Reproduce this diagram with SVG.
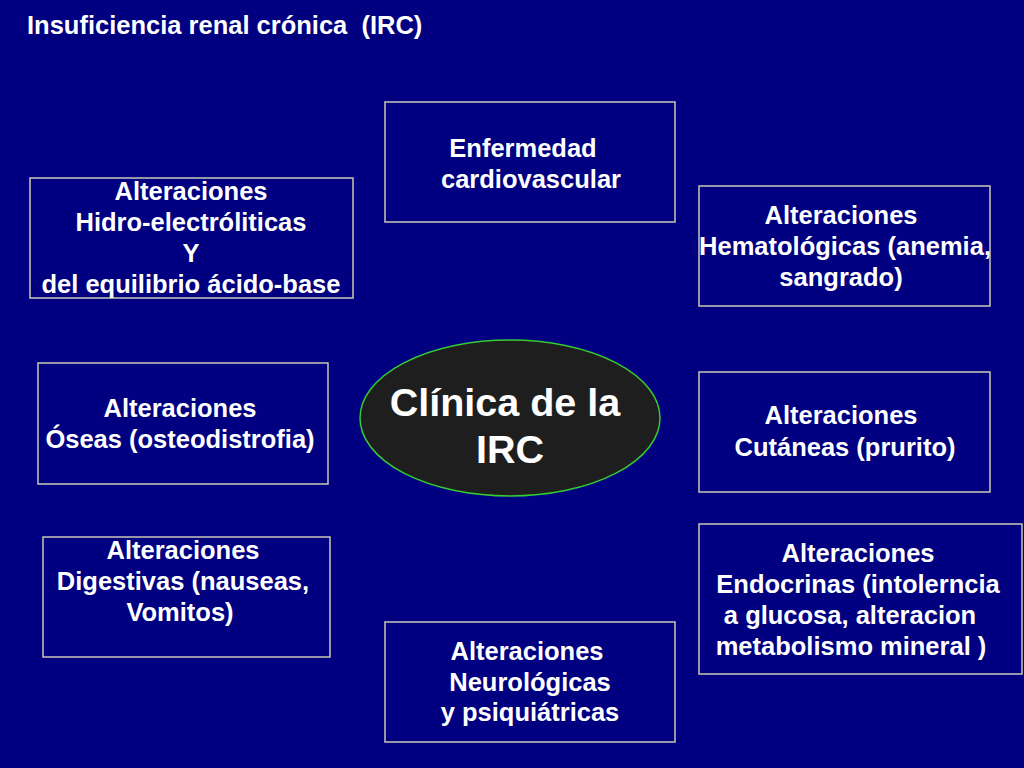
<svg xmlns="http://www.w3.org/2000/svg" width="1024" height="768" viewBox="0 0 1024 768">
<style>
.bg{fill:#000080}
.box{fill:#000080;stroke:#c8c8b4;stroke-width:1.5}
.t{font-family:"Liberation Sans",Arial,sans-serif;font-weight:bold;font-size:25.5px;fill:#ffffff;text-anchor:middle}
.title{font-family:"Liberation Sans",Arial,sans-serif;font-weight:bold;font-size:25.5px;fill:#ffffff;white-space:pre}
.big{font-family:"Liberation Sans",Arial,sans-serif;font-weight:bold;font-size:39.5px;fill:#ffffff;text-anchor:middle}
</style>
<rect class="bg" x="0" y="0" width="1024" height="768"/>
<text class="title" x="27" y="34" xml:space="preserve">Insuficiencia renal crónica  (IRC)</text>
<g id="connectors"></g>
<g id="center">
<ellipse cx="510" cy="418" rx="150" ry="78" fill="#1e1e1e" stroke="#33cc33" stroke-width="1.5"/>
<text class="big" x="505" y="416">Clínica de la</text>
<text class="big" x="510" y="463">IRC</text>
</g>
<g id="cardio">
<rect class="box" x="385" y="102" width="290" height="120"/>
<text class="t" x="523" y="157">Enfermedad</text>
<text class="t" x="531" y="188">cardiovascular</text>
</g>
<g id="hidro">
<rect class="box" x="30" y="178" width="323" height="120"/>
<text class="t" x="191" y="200">Alteraciones</text>
<text class="t" x="191" y="231">Hidro-electróliticas</text>
<text class="t" x="191" y="262">Y</text>
<text class="t" x="191" y="293">del equilibrio ácido-base</text>
</g>
<g id="hemato">
<rect class="box" x="699" y="186" width="291" height="120"/>
<text class="t" x="841" y="224">Alteraciones</text>
<text class="t" x="845" y="255">Hematológicas (anemia,</text>
<text class="t" x="841" y="286">sangrado)</text>
</g>
<g id="oseas">
<rect class="box" x="38" y="363" width="290" height="121"/>
<text class="t" x="180" y="417">Alteraciones</text>
<text class="t" x="180" y="448">Óseas (osteodistrofia)</text>
</g>
<g id="cutaneas">
<rect class="box" x="699" y="372" width="291" height="120"/>
<text class="t" x="841" y="424">Alteraciones</text>
<text class="t" x="845" y="456">Cutáneas (prurito)</text>
</g>
<g id="digestivas">
<rect class="box" x="43" y="537" width="287" height="120"/>
<text class="t" x="183" y="559">Alteraciones</text>
<text class="t" x="183" y="590">Digestivas (nauseas,</text>
<text class="t" x="180" y="621">Vomitos)</text>
</g>
<g id="endocrinas">
<rect class="box" x="699" y="524" width="323" height="150"/>
<text class="t" x="858" y="562">Alteraciones</text>
<text class="t" x="858" y="593">Endocrinas (intolerncia</text>
<text class="t" x="850" y="624">a glucosa, alteracion</text>
<text class="t" x="851" y="655">metabolismo mineral )</text>
</g>
<g id="neuro">
<rect class="box" x="385" y="622" width="290" height="120"/>
<text class="t" x="527" y="660">Alteraciones</text>
<text class="t" x="530" y="691">Neurológicas</text>
<text class="t" x="530" y="721">y psiquiátricas</text>
</g>
</svg>
